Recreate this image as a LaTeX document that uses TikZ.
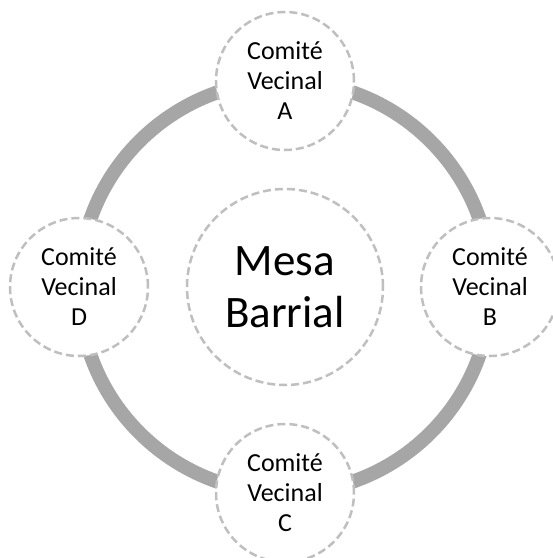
\documentclass[tikz,border=0pt]{standalone}
\usepackage{fontspec}
\setmainfont{Carlito}
\definecolor{ringgray}{HTML}{A6A6A6}
\definecolor{dashgray}{HTML}{BFBFBF}
\tikzset{
  ring/.style={draw=ringgray, line width=14pt},
  sat/.style={circle, draw=dashgray, line width=2.5pt, dash pattern=on 8pt off 4pt,
    fill=white, minimum size=138pt, inner sep=0pt, align=center,
    font=\fontsize{26pt}{30pt}\selectfont},
  hub/.style={circle, draw=dashgray, line width=2.5pt, dash pattern=on 8pt off 4pt,
    fill=white, minimum size=196pt, inner sep=0pt, align=center,
    font=\fontsize{45pt}{52pt}\selectfont}
}
\begin{document}
\begin{tikzpicture}[x=1pt, y=-1pt]
\useasboundingbox (0,0) rectangle (553,558);
\coordinate (O) at (285,287);
\draw[ring] (O) circle (206pt);
\node[hub] (M) at (O) {Mesa\\Barrial};
\node[sat] (A) at (285,81) {Comité\\Vecinal\\A};
\node[sat] (B) at (490,287) {Comité\\Vecinal\\B};
\node[sat] (C) at (285,493) {Comité\\Vecinal\\C};
\node[sat] (D) at (79,287) {Comité\\Vecinal\\D};
\end{tikzpicture}
\end{document}
